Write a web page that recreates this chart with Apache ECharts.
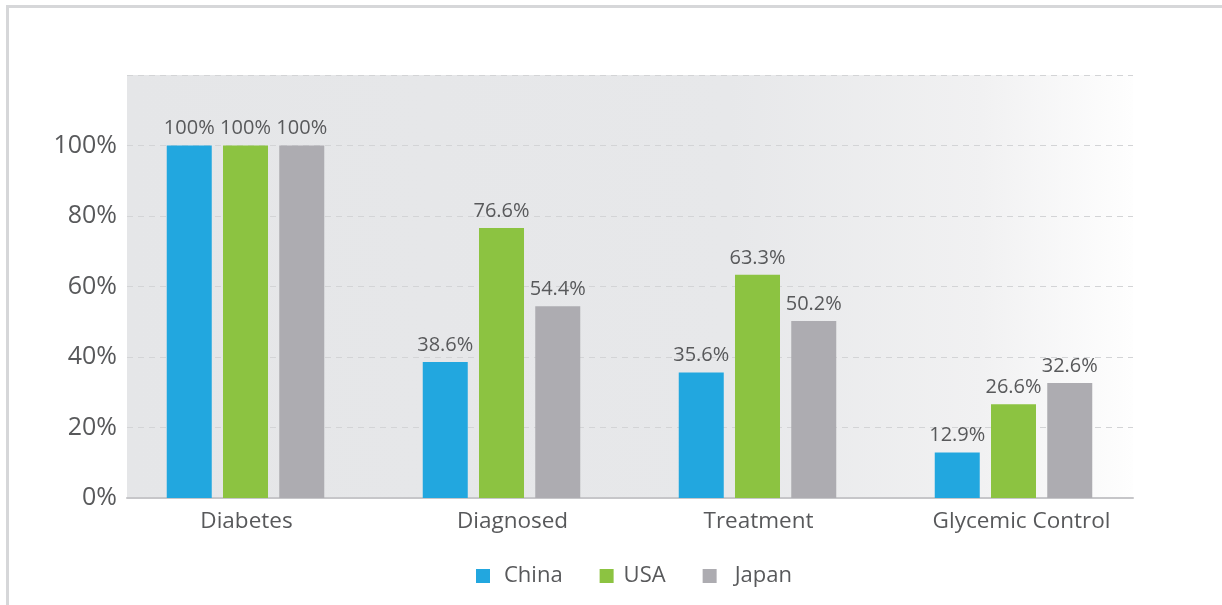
<!DOCTYPE html>
<html><head><meta charset="utf-8">
<script src="https://cdn.jsdelivr.net/npm/echarts@6/dist/echarts.min.js"></script>
<style>html,body{margin:0;padding:0;background:#fff}#c{width:1222px;height:605px}</style>
</head><body><div id="c"></div>
<script>
const categories = ['Diabetes', 'Diagnosed', 'Treatment', 'Glycemic Control'];
const seriesNames = ['China', 'USA', 'Japan'];
const china = [100, 38.6, 35.6, 12.9];
const usa = [100, 76.6, 63.3, 26.6];
const japan = [100, 54.4, 50.2, 32.6];
const colors = ['#22a7df', '#8cc341', '#adacb1'];
const yTicks = [0, 20, 40, 60, 80, 100, 120];

const FONT = 'Open Sans';
const TXT = '#58595b';
const chart = echarts.init(document.getElementById('c'), null, {renderer: 'canvas'});
const values = [china, usa, japan];
const catShift = [2, 22, 2, 16];
const legendPad = [9, 5, 13];
chart.setOption({
  animation: false,
  textStyle: {fontFamily: FONT},
  graphic: [{type: 'rect', z: -10, shape: {x: 7.5, y: 6.5, width: 1400, height: 800},
    style: {fill: 'none', stroke: '#d6d7d9', lineWidth: 3}}],
  grid: [
    {left: 127, right: 89, top: 75, bottom: 107, show: true, borderWidth: 0,
     backgroundColor: new echarts.graphic.LinearGradient(0, 0, 1, 0, [
       {offset: 0, color: '#e5e6e8'}, {offset: 0.6, color: '#e7e8ea'},
       {offset: 0.85, color: '#f1f1f2'}, {offset: 1, color: '#fefefe'}])},
    {left: 117.5, right: 80.5, top: 75, bottom: 107}
  ],
  xAxis: [
    {gridIndex: 0, type: 'category', data: categories, axisTick: {show: false},
     axisLabel: {show: false}, axisLine: {lineStyle: {color: '#c6c6c9', width: 2}}},
    {gridIndex: 1, type: 'category', axisTick: {show: false}, axisLine: {show: false},
     data: categories.map((c, i) => ({value: c, textStyle: {padding: [0, 0, 0, catShift[i]]}})),
     axisLabel: {color: TXT, fontSize: 22.5, margin: 12, fontFamily: FONT}}
  ],
  yAxis: [
    {gridIndex: 0, type: 'value', min: yTicks[0], max: yTicks[yTicks.length - 1], interval: 20,
     axisLine: {show: false}, axisTick: {show: false},
     axisLabel: {color: TXT, fontSize: 25, margin: 10, fontFamily: FONT,
       formatter: v => v >= 120 ? '' : v + '%'},
     splitLine: {lineStyle: {color: '#d3d4d6', type: [6, 5], width: 1}}},
    {gridIndex: 1, type: 'value', min: yTicks[0], max: yTicks[yTicks.length - 1], interval: 20, show: false}
  ],
  legend: {
    bottom: 18, left: 476, padding: 0, itemWidth: 14, itemHeight: 14, itemGap: 37, icon: 'rect',
    textStyle: {color: TXT, fontSize: 22, fontFamily: FONT},
    data: seriesNames.map((n, i) => ({name: n, textStyle: {padding: [0, 0, 0, legendPad[i]]}}))
  },
  series: seriesNames.map((n, i) => ({
    name: n, type: 'bar', xAxisIndex: 1, yAxisIndex: 1,
    data: values[i], barWidth: 45, barGap: '25%',
    itemStyle: {color: colors[i]},
    label: {show: true, position: 'top', distance: 7, color: TXT, fontSize: 20, fontFamily: FONT,
      formatter: p => p.value + '%'}
  }))
});
</script></body></html>
